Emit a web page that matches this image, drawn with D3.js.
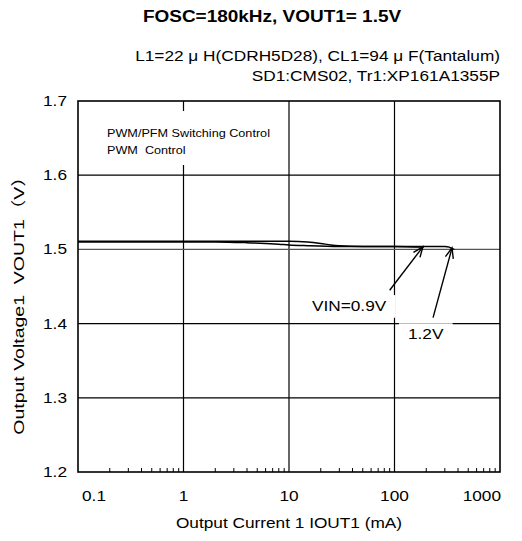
<!DOCTYPE html>
<html>
<head>
<meta charset="utf-8">
<script src="https://cdn.jsdelivr.net/npm/d3@7"></script>
<style>
  body { margin: 0; background: #fff; }
  svg { display: block; }
  text { font-family: "Liberation Sans", Arial, "Noto Sans CJK JP", sans-serif; fill: #000; }
</style>
</head>
<body>
<div id="chart"></div>
<script>
// ---- data ----
const iout09 = [0.1, 0.3, 1, 2, 4, 6, 8, 10, 15, 30, 60, 100, 190];
const vout09 = [1.510, 1.510, 1.510, 1.510, 1.509, 1.508, 1.507, 1.506, 1.505, 1.504, 1.504, 1.504, 1.503];
const iout12 = [0.1, 0.3, 1, 3, 6, 10, 15, 20, 25, 30, 50, 100, 200, 300, 330, 350, 370];
const vout12 = [1.511, 1.511, 1.511, 1.511, 1.511, 1.511, 1.510, 1.508, 1.506, 1.505, 1.504, 1.504, 1.504, 1.504, 1.503, 1.501, 1.500];

const xTicks = [0.1, 1, 10, 100, 1000];
const xTickLabels = ["0.1", "1", "10", "100", "1000"];
const yTicks = [1.2, 1.3, 1.4, 1.5, 1.6, 1.7];
const yTickLabels = ["1.2", "1.3", "1.4", "1.5", "1.6", "1.7"];

// annotation arrows: [tail, tip] in (mA, V)
const arrows = [
  {label: "VIN=0.9V", tail: [90, 1.445], tip: [186, 1.5035], text: [16.5, 1.417]},
  {label: "1.2V", tail: [232, 1.408], tip: [351, 1.502], text: [134, 1.379]}
];

const W = 522, H = 541;
const margin = {top: 101, right: 22, bottom: 69, left: 78};
const SX = 1.15; // horizontal glyph stretch of the original font

const svg = d3.select("#chart").append("svg")
    .attr("width", W)
    .attr("height", H);

const x = d3.scaleLog().domain([0.1, 1000]).range([margin.left, W - margin.right]);
const y = d3.scaleLinear().domain([1.2, 1.7]).range([H - margin.bottom, margin.top]);

// text helper: stretched text at (px, py)
function label(parent, px, py, str, size, anchor, weight, rotate, sx) {
    let g = parent.append("g")
        .attr("transform", "translate(" + px + "," + py + ")" + (rotate ? " rotate(" + rotate + ")" : "") + " scale(" + (sx || SX) + ",1)");
    let t = g.append("text")
        .attr("font-size", size)
        .attr("text-anchor", anchor || "start")
        .attr("font-weight", weight || "normal")
        .style("white-space", "pre")
        .text(str);
    return t;
}

// grid
svg.append("g").selectAll("line")
    .data(xTicks.slice(1, -1))
    .enter().append("line")
    .attr("x1", d => x(d)).attr("x2", d => x(d))
    .attr("y1", y(1.7)).attr("y2", y(1.2))
    .attr("stroke", "#000").attr("stroke-width", 1.2);

svg.append("g").selectAll("line")
    .data(yTicks.slice(1, -1))
    .enter().append("line")
    .attr("x1", x(0.1)).attr("x2", x(1000))
    .attr("y1", d => y(d)).attr("y2", d => y(d))
    .attr("stroke", d => d === 1.5 ? "#555" : "#000")
    .attr("stroke-width", 1.2);

// minor ticks along bottom
let minor = [];
xTicks.slice(0, -1).forEach(d => { for (let k = 2; k < 10; k++) minor.push(d * k); });
svg.append("g").selectAll("line")
    .data(minor)
    .enter().append("line")
    .attr("x1", d => x(d)).attr("x2", d => x(d))
    .attr("y1", y(1.2)).attr("y2", y(1.2) - 4)
    .attr("stroke", "#000").attr("stroke-width", 1);

// frame
svg.append("rect")
    .attr("x", x(0.1)).attr("y", y(1.7))
    .attr("width", x(1000) - x(0.1)).attr("height", y(1.2) - y(1.7))
    .attr("fill", "none").attr("stroke", "#000").attr("stroke-width", 1.6);

// curves
const line = d3.line()
    .x(d => x(d[0]))
    .y(d => y(d[1]))
    .curve(d3.curveMonotoneX);

[[iout09, vout09], [iout12, vout12]].forEach(s => {
    svg.append("path")
        .datum(d3.zip(s[0], s[1]))
        .attr("d", line)
        .attr("fill", "none")
        .attr("stroke", "#000")
        .attr("stroke-width", 1.4);
});

// legend text with white box
let leg = svg.append("g");
leg.append("rect").attr("fill", "#fff")
    .attr("x", 100).attr("y", 111).attr("width", 178).attr("height", 54);
label(leg, 107, 137, "PWM/PFM Switching Control", 11);
label(leg, 107, 154, "PWM  Control", 11);

// arrows and their labels
arrows.forEach(a => {
    let g = svg.append("g");
    let box = g.append("rect").attr("fill", "#fff");
    let t = label(g, x(a.text[0]), y(a.text[1]), a.label, 15);
    let b = t.node().getBoundingClientRect();
    box.attr("x", b.left - 9).attr("y", b.top - 2)
       .attr("width", b.width + 18).attr("height", b.height + 6);

    let x0 = x(a.tail[0]), y0 = y(a.tail[1]), x1 = x(a.tip[0]), y1 = y(a.tip[1]);
    g.append("line")
        .attr("x1", x0).attr("y1", y0).attr("x2", x1).attr("y2", y1)
        .attr("stroke", "#000").attr("stroke-width", 1.4);
    let ang = Math.atan2(y0 - y1, x0 - x1), len = 11, spread = 0.38;
    g.append("path")
        .attr("d", "M" + (x1 + len * Math.cos(ang - spread)) + "," + (y1 + len * Math.sin(ang - spread)) +
                   "L" + x1 + "," + y1 +
                   "L" + (x1 + len * Math.cos(ang + spread)) + "," + (y1 + len * Math.sin(ang + spread)))
        .attr("fill", "none").attr("stroke", "#000").attr("stroke-width", 1.4);
});

// tick labels (end labels sit inside the frame like the original)
xTicks.forEach((d, i) => {
    let anchor = i === 0 ? "start" : (i === xTicks.length - 1 ? "end" : "middle");
    let dx = i === 0 ? 4 : (i === xTicks.length - 1 ? 1 : 0);
    label(svg, x(d) + dx, 501, xTickLabels[i], 15, anchor);
});
yTicks.forEach((d, i) => label(svg, 67, y(d) + 5, yTickLabels[i], 15, "end"));

// titles
label(svg, 272, 22, "FOSC=180kHz, VOUT1= 1.5V", 16.5, "middle", "bold");
label(svg, 500, 61, "L1=22 \u03bc H(CDRH5D28), CL1=94 \u03bc F(Tantalum)", 15, "end");
label(svg, 500, 81, "SD1:CMS02, Tr1:XP161A1355P", 15, "end");
label(svg, 289, 528, "Output Current 1 IOUT1 (mA)", 15, "middle");

// y title: centre it on the measured box
const ySX = 1.3;
let yt = label(svg, 24, 301, "Output Voltage1  VOUT1\uff08V\uff09", 15, "middle", "normal", -90, ySX);
let yb = yt.node().getBoundingClientRect();
let shift = 301 - (yb.top + yb.height / 2);
d3.select(yt.node().parentNode)
    .attr("transform", "translate(24," + (301 + shift) + ") rotate(-90) scale(" + ySX + ",1)");
</script>
</body>
</html>
